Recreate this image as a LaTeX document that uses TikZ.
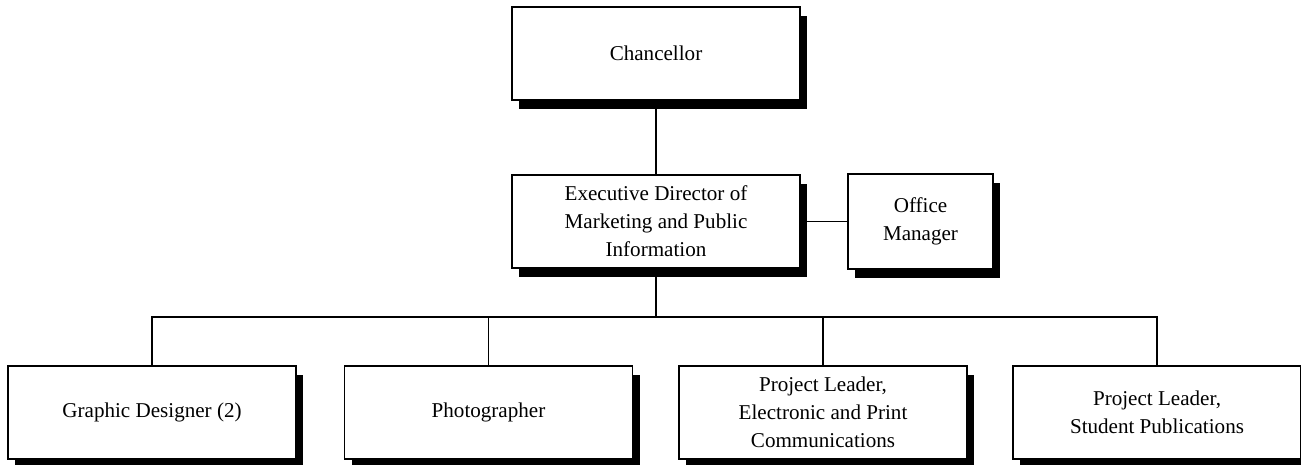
\documentclass[tikz,border=0pt]{standalone}
\usepackage{fontspec}
\setmainfont{Liberation Serif}
\usetikzlibrary{shadows}
\tikzset{
  cargo/.style={
    draw, line width=1.1pt, fill=white, minimum width=5.76cm, minimum height=1.86cm,
    font=\fontsize{12}{16}\selectfont, align=center, inner sep=2pt,
    drop shadow={shadow xshift=0.14cm, shadow yshift=-0.18cm, fill=black, opacity=1}
  },
  ligacao/.style={line width=1.1pt},
}
\begin{document}
\begin{tikzpicture}
\useasboundingbox (0,0) rectangle (26.02,-9.30);

\node[cargo] (chanceler) at (13.12,-1.07) {Chancellor};

\node[cargo] (diretor) at (13.12,-4.43)
{Executive Director of\\
Marketing and Public\\
Information};

\node[cargo, minimum width=2.90cm, minimum height=1.90cm] (office) at (18.41,-4.43)
{Office\\
Manager};

\coordinate (barra) at (0,-6.34);

\node[cargo] (grafico) at (3.04,-8.25) {Graphic Designer (2)};
\node[cargo] (foto) at (9.77,-8.25) {Photographer};
\node[cargo] (eletronico) at (16.46,-8.25)
{Project Leader,\\
Electronic and Print\\
Communications};
\node[cargo] (estudante) at (23.14,-8.25)
{Project Leader,\\
Student Publications};

\draw[ligacao] (chanceler) -- (diretor);
\draw[ligacao] (diretor) -- (office);
\foreach \alvo in {grafico, foto, eletronico, estudante}
  \draw[ligacao] (diretor.south) -- (diretor.south |- barra) -| (\alvo.north);

\end{tikzpicture}
\end{document}
